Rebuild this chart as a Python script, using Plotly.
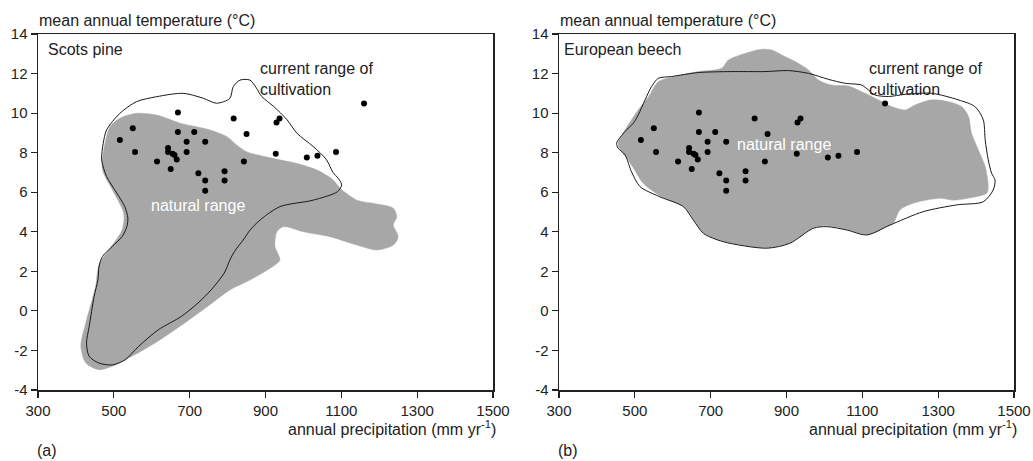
import plotly.graph_objects as go
from plotly.subplots import make_subplots

# ---- data -------------------------------------------------------------
# sample sites (annual precipitation mm/yr, mean annual temperature °C)
site_precip = [516, 550, 556, 614, 643, 643, 650, 655, 660, 666, 669, 669, 692, 692,
               712, 723, 741, 741, 741, 792, 792, 816, 843, 850, 927, 929, 937,
               1009, 1037, 1086, 1160]
site_temp = [8.64, 9.24, 8.03, 7.55, 8.23, 8.03, 7.18, 7.95, 7.88, 7.66, 10.03, 9.04,
             8.55, 8.03, 9.04, 6.96, 8.55, 6.59, 6.08, 7.06, 6.59, 9.73, 7.55, 8.94,
             7.95, 9.53, 9.73, 7.75, 7.85, 8.03, 10.49]

# Scots pine natural range outline
pine_nat_x = [472, 490, 516, 560, 613, 675, 754, 798, 824, 850, 922, 983, 1035, 1078,
              1097, 1141, 1184, 1237, 1246, 1237, 1250, 1237, 1193, 1141, 1070, 1000,
              947, 930, 925, 938, 912, 859, 806, 765, 687, 609, 548, 496, 461, 426,
              413, 426, 452, 461, 487, 522, 526, 496, 470]
pine_nat_y = [7.97, 9.31, 9.74, 9.99, 9.9, 9.49, 9.15, 8.81, 8.39, 8.05, 7.7, 7.45, 7.13,
              6.63, 6.2, 5.6, 5.44, 5.19, 4.76, 4.34, 3.75, 3.33, 3.08, 3.33, 3.75, 4.0,
              4.26, 4.0, 3.25, 2.57, 2.15, 1.56, 1.06, 0.48, -0.61, -1.62, -2.29, -2.8,
              -2.97, -2.63, -1.78, -0.61, 1.24, 2.36, 3.09, 4.1, 4.94, 6.12, 7.13]

# Scots pine current range of cultivation
pine_cult_x = [481, 516, 560, 613, 683, 736, 771, 806, 815, 833, 859, 875, 890, 922, 957,
               983, 1026, 1061, 1078, 1092, 1101, 1090, 1026, 938, 886, 860, 841, 818,
               806, 791, 757, 722, 678, 617, 565, 530, 496, 461, 435, 428, 435, 448,
               458, 461, 470, 496, 522, 535, 537, 529, 508, 481, 468, 472]
pine_cult_y = [9.15, 9.99, 10.58, 10.83, 11.0, 10.75, 10.5, 10.75, 11.34, 11.67, 11.67,
               11.3, 10.84, 10.33, 9.66, 8.98, 8.31, 7.64, 7.0, 6.7, 6.37, 6.03, 5.6, 5.27,
               4.6, 4.1, 3.58, 3.0, 2.57, 1.91, 1.07, 0.4, -0.28, -0.96, -1.8, -2.47,
               -2.73, -2.64, -2.3, -1.63, -0.79, 0.73, 1.57, 2.24, 2.75, 3.26, 3.76, 4.3,
               4.7, 5.27, 5.95, 6.79, 7.63, 8.47]

# European beech natural range outline
beech_nat_x = [456, 474, 509, 536, 562, 606, 667, 729, 747, 791, 835, 861, 896, 931, 958,
               984, 1019, 1063, 1107, 1142, 1177, 1213, 1239, 1283, 1327, 1362, 1380,
               1388, 1406, 1424, 1432, 1428, 1385, 1340, 1305, 1234, 1199, 1182, 1164,
               1112, 1059, 1006, 971, 909, 848, 733, 681, 656, 630, 568, 522, 497, 476,
               460]
beech_nat_y = [8.48, 9.15, 10.16, 10.83, 11.59, 11.85, 12.1, 12.27, 12.69, 13.02, 13.23,
               13.19, 12.86, 12.52, 12.18, 11.68, 11.42, 11.37, 11.0, 10.67, 10.33, 10.16,
               10.41, 10.67, 10.58, 10.33, 9.83, 8.98, 8.14, 7.3, 6.29, 5.95, 5.72, 5.6,
               5.69, 5.44, 5.1, 4.43, 4.26, 3.86, 4.11, 4.3, 4.2, 3.44, 3.19, 3.52, 3.94,
               4.6, 5.25, 5.8, 6.45, 7.2, 7.8, 8.2]

# European beech current range of cultivation
beech_cult_x = [452, 474, 496, 509, 527, 544, 562, 597, 667, 755, 843, 905, 958, 1010,
                1054, 1098, 1116, 1133, 1169, 1213, 1283, 1353, 1397, 1419, 1424, 1432,
                1441, 1450, 1445, 1419, 1349, 1261, 1173, 1112, 1059, 1006, 971, 909,
                848, 733, 681, 654, 628, 566, 514, 492, 474, 456]
beech_cult_y = [8.48, 9.07, 9.49, 9.91, 10.67, 11.34, 11.76, 11.85, 12.05, 12.1, 12.1,
                12.15, 12.01, 11.71, 11.51, 11.42, 11.17, 10.92, 10.84, 10.95, 11.0, 10.67,
                10.33, 9.66, 8.65, 7.64, 6.96, 6.62, 6.11, 5.52, 5.36, 5.02, 4.34, 3.84,
                4.09, 4.26, 4.18, 3.42, 3.17, 3.5, 3.92, 4.6, 5.27, 5.77, 6.28, 7.0, 7.89,
                8.23]

x_ticks = [300, 500, 700, 900, 1100, 1300, 1500]
y_ticks = [-4, -2, 0, 2, 4, 6, 8, 10, 12, 14]
y_tick_labels = ["-4", "-2", "0", "2", "4", "6", "8", "10", "12", "14"]

# ---- figure -----------------------------------------------------------
W, H = 1033, 461
GRAY = "#a7a7a7"
TXT = "#222222"
FONT = "Liberation Sans, Arial, sans-serif"

fig = make_subplots(rows=1, cols=2)


def closed(a):
    return list(a) + [a[0]]


panels = [
    (1, pine_nat_x, pine_nat_y, pine_cult_x, pine_cult_y),
    (2, beech_nat_x, beech_nat_y, beech_cult_x, beech_cult_y),
]
for col, nx, ny, cx, cy in panels:
    fig.add_trace(go.Scatter(x=closed(nx), y=closed(ny), mode="lines", fill="toself",
                             fillcolor=GRAY, line=dict(color=GRAY, width=0.5, shape="spline",
                                                       smoothing=0.8),
                             hoverinfo="skip", showlegend=False), row=1, col=col)
    fig.add_trace(go.Scatter(x=closed(cx), y=closed(cy), mode="lines",
                             line=dict(color="#1a1a1a", width=1, shape="spline", smoothing=0.8),
                             hoverinfo="skip", showlegend=False), row=1, col=col)
    fig.add_trace(go.Scatter(x=site_precip, y=site_temp, mode="markers",
                             marker=dict(color="black", size=6),
                             showlegend=False), row=1, col=col)

y0, y1 = 1 - 390 / H, 1 - 34 / H
doms = [(38 / W, 493 / W), (559 / W, 1014 / W)]
for i, (d0, d1) in enumerate(doms, start=1):
    sx = "" if i == 1 else str(i)
    fig.layout["xaxis" + sx].update(
        domain=[d0, d1], range=[300, 1500], tickvals=x_ticks,
        ticktext=[str(v) for v in x_ticks], ticks="outside", ticklen=6,
        tickwidth=1.2, tickcolor="#222", showline=True, linecolor="#222", linewidth=1.5,
        mirror=True, showgrid=False, zeroline=False, automargin=False,
        tickfont=dict(family=FONT, size=15, color=TXT))
    fig.layout["yaxis" + sx].update(
        domain=[y0, y1], range=[-4, 14], tickvals=y_ticks, ticktext=y_tick_labels,
        ticks="outside", ticklen=6,
        tickwidth=1.2, tickcolor="#222", showline=True, linecolor="#222", linewidth=1.5,
        mirror=True, showgrid=False, zeroline=False, automargin=False,
        tickfont=dict(family=FONT, size=15, color=TXT))


def pann(text, px, py, xanchor="left", size=16, color=TXT):
    fig.add_annotation(text=text, x=px / W, y=1 - py / H, xref="paper", yref="paper",
                       xanchor=xanchor, yanchor="middle", showarrow=False,
                       font=dict(family=FONT, size=size, color=color))


def dann(text, x, y, xref, yref, xanchor="left", color=TXT, align="left"):
    fig.add_annotation(text=text, x=x, y=y, xref=xref, yref=yref, xanchor=xanchor,
                       yanchor="middle", showarrow=False, align=align,
                       font=dict(family=FONT, size=16, color=color))


for off, lab in [(0, "(a)"), (521, "(b)")]:
    pann("mean annual temperature (°C)", 37 + off, 20)
    pann("annual precipitation (mm yr<sup>-1</sup>)", 498 + off, 428, xanchor="right")
    pann(lab, 35 + off, 450)

dann("Scots pine", 320, 13.2, "x", "y")
dann("current range of<br>cultivation", 880, 11.75, "x", "y")
dann("natural range", 723, 5.35, "x", "y", xanchor="center", color="white")

dann("European beech", 309, 13.2, "x2", "y2")
dann("current range of<br>cultivation", 1112, 11.75, "x2", "y2")
dann("natural range", 893, 8.39, "x2", "y2", xanchor="center", color="white")

fig.update_layout(width=W, height=H, margin=dict(l=0, r=0, t=0, b=0),
                  paper_bgcolor="white", plot_bgcolor="white",
                  font=dict(family=FONT, color=TXT), hovermode=False)

fig.write_html("out.html",
               config={"displayModeBar": False, "staticPlot": True},
               post_script="document.body.style.margin='0px';"
                           "document.body.style.padding='0px';"
                           "document.body.style.overflow='hidden';")
